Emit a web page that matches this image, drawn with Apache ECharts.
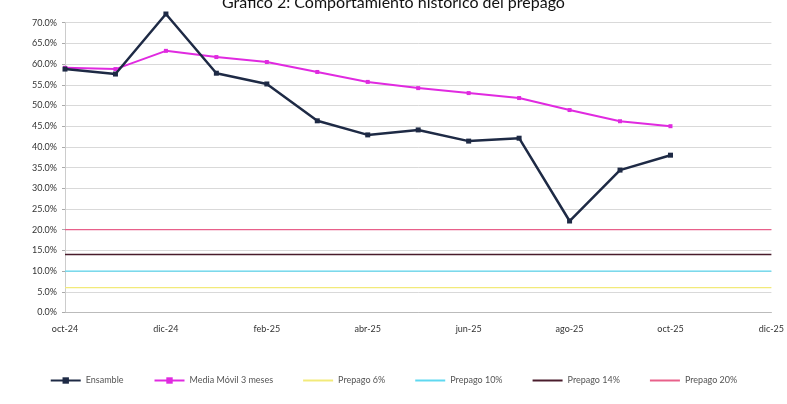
<!DOCTYPE html>
<html><head><meta charset="utf-8">
<script src="https://cdn.jsdelivr.net/npm/echarts@6/dist/echarts.min.js"></script>
<style>html,body{margin:0;padding:0;background:#fff}#c{width:787px;height:404px}</style>
</head><body><div id="c"></div>
<script>
const categories = ['oct-24','nov-24','dic-24','ene-25','feb-25','mar-25','abr-25','may-25','jun-25','jul-25','ago-25','sep-25','oct-25','nov-25','dic-25'];
const ensamble = [58.8,57.6,72.1,57.8,55.2,46.3,42.9,44.1,41.4,42.1,22.1,34.4,38.0];
const mediaMovil = [59.1,58.8,63.2,61.7,60.5,58.1,55.7,54.2,53.0,51.8,48.9,46.2,45.0];
const thresholds = [
  {name:'Prepago 6%', value:6, color:'#f2ea7a'},
  {name:'Prepago 10%', value:10, color:'#5fd8f0'},
  {name:'Prepago 14%', value:14, color:'#4a1c2c'},
  {name:'Prepago 20%', value:20, color:'#e8608a'}
];
const chart = echarts.init(document.getElementById('c'));
const font = 'Lato, "Open Sans", sans-serif';
const lineIcon = 'path://M0,0 L30,0 L30,2 L0,2 Z';
const series = [
  {name:'Ensamble', type:'line', data:ensamble, clip:false, symbol:'rect', symbolSize:5,
   lineStyle:{color:'#1e2a45', width:2.5}, itemStyle:{color:'#1e2a45'}, z:5},
  {name:'Media Móvil 3 meses', type:'line', data:mediaMovil, clip:false, symbol:'rect', symbolSize:4,
   lineStyle:{color:'#e02ae0', width:2}, itemStyle:{color:'#e02ae0'}, z:4}
];
thresholds.forEach(t => series.push({
  name:t.name, type:'line', data:categories.map(()=>t.value), symbol:'none',
  lineStyle:{color:t.color, width: t.value===14 ? 1.6 : 1.2}, itemStyle:{color:t.color}
}));
chart.setOption({
  animation:false,
  title:{text:'Gráfico 2: Comportamiento histórico del prepago', left:'center', top:-10,
    textStyle:{fontFamily:font, fontSize:16, fontWeight:'normal', color:'#111'}},
  grid:{left:65, right:12, top:22.7, bottom:91.5},
  legend:{bottom:14, left:'center', itemGap:30, itemWidth:30, itemHeight:8,
    textStyle:{fontFamily:font, fontSize:9, color:'#555'},
    data:[
      {name:'Ensamble'},
      {name:'Media Móvil 3 meses'},
      {name:'Prepago 6%', icon:lineIcon},
      {name:'Prepago 10%', icon:lineIcon},
      {name:'Prepago 14%', icon:lineIcon},
      {name:'Prepago 20%', icon:lineIcon}
    ]},
  xAxis:{type:'category', data:categories, boundaryGap:false,
    axisLine:{lineStyle:{color:'#bbb'}}, axisTick:{show:false},
    axisLabel:{interval:1, fontFamily:font, fontSize:9, color:'#333', margin:12}},
  yAxis:{type:'value', min:0, max:70, interval:5,
    axisLine:{show:true, lineStyle:{color:'#ccc'}}, axisTick:{show:true, length:3, lineStyle:{color:'#aaa'}},
    splitLine:{lineStyle:{color:'#d9d9d9'}},
    axisLabel:{fontFamily:font, fontSize:9, color:'#333', formatter:v=>v.toFixed(1)+'%'}},
  series:series
});
</script></body></html>
